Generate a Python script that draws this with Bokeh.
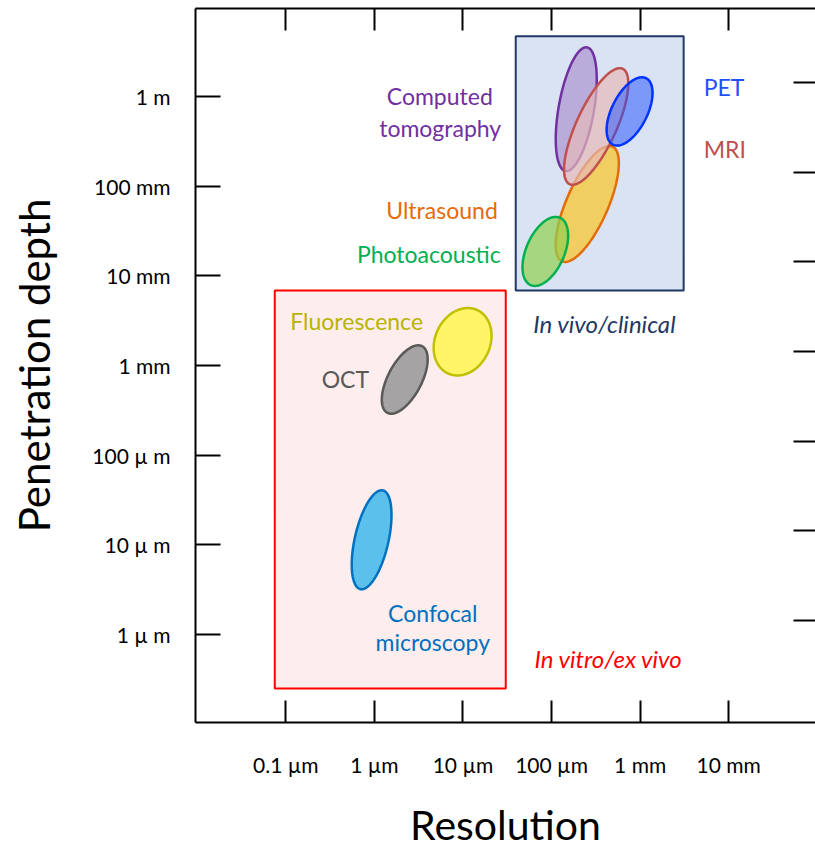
import numpy as np
from bokeh.plotting import figure
from bokeh.models import LogAxis, FixedTicker, CustomJSTickFormatter, ColumnDataSource
from bokeh.core.properties import value
from bokeh.embed import file_html
from bokeh.resources import INLINE

FONT = "Lato"

# ---- axis ticks (metres) and their labels ----
RES_TICKS = [1e-7, 1e-6, 1e-5, 1e-4, 1e-3, 1e-2]
RES_LABELS = ["0.1 µm", "1 µm", "10 µm", "100 µm", "1 mm", "10 mm"]
DEPTH_TICKS = [1e-6, 1e-5, 1e-4, 1e-3, 1e-2, 1e-1, 1.0]
DEPTH_LABELS = ["1 µ m", "10 µ m", "100 µ m", "1 mm", "10 mm", "100 mm", "1 m"]
# unlabelled tick marks along the right edge
RIGHT_TICKS = [1.43e-6, 1.43e-5, 1.43e-4, 1.43e-3, 1.43e-2, 1.43e-1, 1.43]

# ---- application regimes (resolution / depth ranges in metres) ----
REGION_NAMES = ["In vitro/ex vivo", "In vivo/clinical"]
REGION_RES_MIN = [7.5e-8, 3.94e-5]
REGION_RES_MAX = [3.04e-5, 3.1e-3]
REGION_DEPTH_MIN = [2.5e-7, 6.85e-3]
REGION_DEPTH_MAX = [6.85e-3, 4.67]

# ---- imaging modalities: centre (metres), spread (decades), tilt (deg) ----
MODALITIES = ["Confocal microscopy", "OCT", "Fluorescence", "Computed tomography",
              "Ultrasound", "MRI", "PET", "Photoacoustic"]
MOD_RES = [9.3e-7, 2.2e-6, 9.9e-6, 1.9e-4, 2.53e-4, 3.19e-4, 7.6e-4, 8.5e-5]
MOD_DEPTH = [1.14e-5, 6.98e-4, 1.84e-3, 0.72, 0.0632, 0.462, 0.68, 0.0187]
MOD_MAJOR = [0.565, 0.42, 0.39, 0.70, 0.70, 0.71, 0.415, 0.41]
MOD_MINOR = [0.19, 0.19, 0.31, 0.20, 0.235, 0.225, 0.20, 0.215]
MOD_TILT = [77, 62, 64, 80, 66, 65, 63, 66]
MOD_FILL = ["#5bc0eb", "#a5a3a3", "#fff566", "#7030a0", "#ffc000", "#e6b9b8", "#1e50ff", "#92d050"]
MOD_FILL_ALPHA = [1.0, 1.0, 1.0, 0.3, 0.6, 0.7, 0.5, 0.7]
MOD_LINE = ["#0070c0", "#595959", "#c0c000", "#7030a0", "#e36c09", "#c0504d", "#0033ff", "#00b050"]


def ellipse_outline(res, depth, major, minor, tilt, n=120):
    t = np.linspace(0, 2 * np.pi, n)
    th = np.deg2rad(tilt)
    dx = major * np.cos(t) * np.cos(th) - minor * np.sin(t) * np.sin(th)
    dy = major * np.cos(t) * np.sin(th) + minor * np.sin(t) * np.cos(th)
    return list(10 ** (np.log10(res) + dx)), list(10 ** (np.log10(depth) + dy))


p = figure(width=815, height=853, x_axis_type="log", y_axis_type="log",
           x_range=(10 ** -8.02, 10 ** -1.02), y_range=(10 ** -6.98, 10 ** 0.98),
           output_backend="svg", toolbar_location=None,
           min_border_left=195, min_border_right=0, min_border_top=8, min_border_bottom=131)
p.grid.visible = False
p.outline_line_color = None
p.background_fill_color = "white"
p.border_fill_color = "white"

# regime boxes
p.quad(left=[REGION_RES_MIN[0]], right=[REGION_RES_MAX[0]],
       bottom=[REGION_DEPTH_MIN[0]], top=[REGION_DEPTH_MAX[0]],
       fill_color="#fdeded", line_color="#ff0000", line_width=2)
p.quad(left=[REGION_RES_MIN[1]], right=[REGION_RES_MAX[1]],
       bottom=[REGION_DEPTH_MIN[1]], top=[REGION_DEPTH_MAX[1]],
       fill_color="#dae3f4", line_color="#1f3864", line_width=2)

# modality ellipses
xs, ys = [], []
for r, d, a, b, t in zip(MOD_RES, MOD_DEPTH, MOD_MAJOR, MOD_MINOR, MOD_TILT):
    ex, ey = ellipse_outline(r, d, a, b, t)
    xs.append(ex)
    ys.append(ey)
src = ColumnDataSource(dict(xs=xs, ys=ys, fill=MOD_FILL, alpha=MOD_FILL_ALPHA, line=MOD_LINE))
p.patches("xs", "ys", source=src, fill_color="fill", fill_alpha="alpha",
          line_color="line", line_width=2.5)

# text annotations
def add_text(x, y, text, color, align, italic=False, size="23px"):
    p.text(x=[x], y=[y], text=[text], text_color=color, text_align=align,
           text_baseline="middle", text_font=value(FONT), text_font_size=size,
           text_font_style="italic" if italic else "normal")

add_text(2.17e-5, 1.0, "Computed", "#7030a0", "right")
add_text(2.7e-5, 0.45, "tomography", "#7030a0", "right")
add_text(2.47e-5, 0.0535, "Ultrasound", "#e46c0a", "right")
add_text(2.67e-5, 0.0173, "Photoacoustic", "#00b050", "right")
add_text(5.22e-3, 1.26, "PET", "#1e50ff", "left")
add_text(5.22e-3, 0.257, "MRI", "#c0504d", "left")
add_text(3.98e-4, 2.94e-3, "In vivo/clinical", "#1f3864", "center", italic=True, size="24px")
add_text(6.3e-7, 3.1e-3, "Fluorescence", "#b8b400", "center")
add_text(4.7e-7, 7.16e-4, "OCT", "#595959", "center")
add_text(4.56e-6, 1.76e-6, "Confocal", "#0070c0", "center")
add_text(4.56e-6, 8.35e-7, "microscopy", "#0070c0", "center")
add_text(4.42e-4, 5.4e-7, "In vitro/ex vivo", "#ff0000", "center", italic=True, size="24px")

# axes
def style_axis(ax, tick_len):
    ax.axis_line_width = 2
    ax.axis_line_color = "black"
    ax.major_tick_line_width = 2
    ax.major_tick_line_color = "black"
    ax.major_tick_in = tick_len
    ax.major_tick_out = 0
    ax.minor_tick_line_color = None
    ax.major_label_text_font = FONT
    ax.major_label_text_color = "black"
    ax.axis_label_text_font = FONT
    ax.axis_label_text_font_style = "normal"
    ax.axis_label_text_color = "black"

xa = p.xaxis[0]
xa.ticker = FixedTicker(ticks=RES_TICKS)
xa.formatter = CustomJSTickFormatter(args=dict(labels=RES_LABELS),
                                     code="return labels[Math.round(Math.log10(tick)) + 7];")
style_axis(xa, 22)
xa.major_label_text_font_size = "21px"
xa.major_label_standoff = 29
xa.axis_label = "Resolution"
xa.axis_label_text_font_size = "41px"
xa.axis_label_text_baseline = "middle"
xa.axis_label_standoff = 20

ya = p.yaxis[0]
ya.ticker = FixedTicker(ticks=DEPTH_TICKS)
ya.formatter = CustomJSTickFormatter(args=dict(labels=DEPTH_LABELS),
                                     code="return labels[Math.round(Math.log10(tick)) + 6];")
style_axis(ya, 25)
ya.major_label_text_font_size = "21px"
ya.major_label_standoff = 25
ya.axis_label = "Penetration depth"
ya.axis_label_text_font_size = "42px"
ya.axis_label_standoff = 30

# tick marks along the top and right edges (labels hidden)
top = LogAxis(ticker=FixedTicker(ticks=RES_TICKS))
style_axis(top, 22)
top.major_label_text_font_size = "1px"
top.major_label_text_alpha = 0
top.major_label_standoff = 0
p.add_layout(top, "above")

right = LogAxis(ticker=FixedTicker(ticks=RIGHT_TICKS))
style_axis(right, 22)
right.axis_line_color = None
right.major_label_text_font_size = "1px"
right.major_label_text_alpha = 0
right.major_label_standoff = 0
p.add_layout(right, "right")

open("out.html", "w").write(file_html(p, INLINE))
